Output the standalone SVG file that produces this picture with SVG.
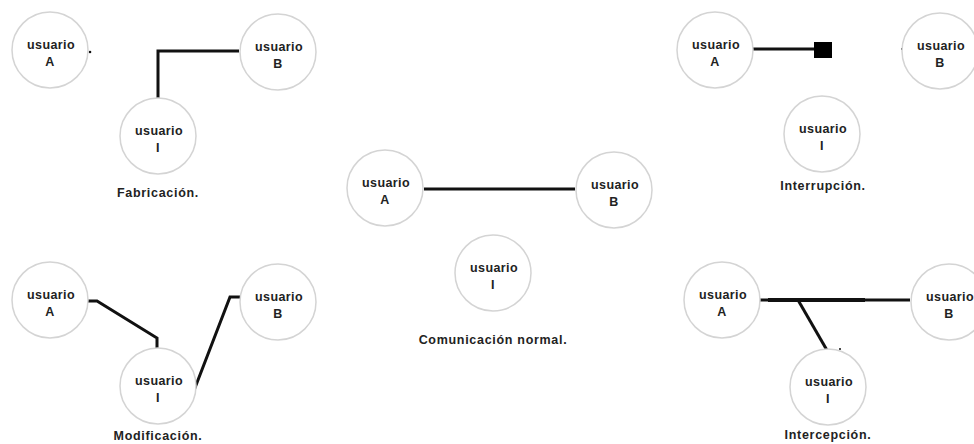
<svg xmlns="http://www.w3.org/2000/svg" width="974" height="444" viewBox="0 0 974 444">
<style>
.n{fill:#fff;stroke:#d4d4d4;stroke-width:1.5}
.t{font-family:"Liberation Sans",Arial,sans-serif;font-weight:bold;font-size:12.5px;fill:#222;text-anchor:middle;letter-spacing:0.4px}
.l{font-family:"Liberation Sans",Arial,sans-serif;font-weight:bold;font-size:12.5px;fill:#222;text-anchor:middle;letter-spacing:0.7px}
.c{fill:none;stroke:#111;stroke-width:3;stroke-linejoin:miter}
</style>
<rect width="974" height="444" fill="#fff"/>
<g id="connectors">
<path class="c" d="M239,51 L158,51 L158,98"/>
<circle cx="90" cy="52" r="1.3" fill="#111"/>
<path class="c" d="M88,301 L97,301 L157,338 L157,348"/>
<path class="c" d="M193,393 L230,297 L241,297"/>
<path class="c" d="M424,189 L575,189"/>
<path class="c" d="M752,49 L815,49"/>
<rect x="814" y="42" width="18" height="16" fill="#000"/>
<circle cx="902" cy="49" r="1" fill="#111"/>
<circle cx="822" cy="97" r="1" fill="#111"/>
<path class="c" d="M759,300 L910,300"/>
<path class="c" d="M768,300 L865,300" style="stroke-width:4"/>
<path class="c" d="M798,300 L828,352"/>
<circle cx="840" cy="349" r="1" fill="#111"/>
</g>
<g id="fab-A"><circle class="n" cx="50" cy="50" r="38"/><text class="t" x="51" y="49">usuario</text><text class="t" x="50" y="66">A</text></g>
<g id="fab-B"><circle class="n" cx="278" cy="52" r="38"/><text class="t" x="279" y="51">usuario</text><text class="t" x="278" y="68">B</text></g>
<g id="fab-I"><circle class="n" cx="158" cy="136" r="38"/><text class="t" x="159" y="135">usuario</text><text class="t" x="158" y="152">I</text></g>
<text class="l" x="158" y="197">Fabricación.</text>
<g id="mod-A"><circle class="n" cx="50" cy="300" r="38"/><text class="t" x="51" y="299">usuario</text><text class="t" x="50" y="316">A</text></g>
<g id="mod-B"><circle class="n" cx="278" cy="302" r="38"/><text class="t" x="279" y="301">usuario</text><text class="t" x="278" y="318">B</text></g>
<g id="mod-I"><circle class="n" cx="158" cy="386" r="38"/><text class="t" x="159" y="385">usuario</text><text class="t" x="158" y="402">I</text></g>
<text class="l" x="158" y="440">Modificación.</text>
<g id="com-A"><circle class="n" cx="385" cy="188" r="38"/><text class="t" x="386" y="187">usuario</text><text class="t" x="385" y="204">A</text></g>
<g id="com-B"><circle class="n" cx="614" cy="190" r="38"/><text class="t" x="615" y="189">usuario</text><text class="t" x="614" y="206">B</text></g>
<g id="com-I"><circle class="n" cx="493" cy="273" r="38"/><text class="t" x="494" y="272">usuario</text><text class="t" x="493" y="289">I</text></g>
<text class="l" x="493" y="344">Comunicación normal.</text>
<g id="int-A"><circle class="n" cx="715" cy="50" r="38"/><text class="t" x="716" y="49">usuario</text><text class="t" x="715" y="66">A</text></g>
<g id="int-B"><circle class="n" cx="940" cy="51" r="38"/><text class="t" x="941" y="50">usuario</text><text class="t" x="940" y="67">B</text></g>
<g id="int-I"><circle class="n" cx="822" cy="134" r="38"/><text class="t" x="823" y="133">usuario</text><text class="t" x="822" y="150">I</text></g>
<text class="l" x="823" y="190">Interrupción.</text>
<g id="itc-A"><circle class="n" cx="722" cy="300" r="38"/><text class="t" x="723" y="299">usuario</text><text class="t" x="722" y="316">A</text></g>
<g id="itc-B"><circle class="n" cx="949" cy="302" r="38"/><text class="t" x="950" y="301">usuario</text><text class="t" x="949" y="318">B</text></g>
<g id="itc-I"><circle class="n" cx="828" cy="387" r="38"/><text class="t" x="829" y="386">usuario</text><text class="t" x="828" y="403">I</text></g>
<text class="l" x="828" y="439">Intercepción.</text>
</svg>
